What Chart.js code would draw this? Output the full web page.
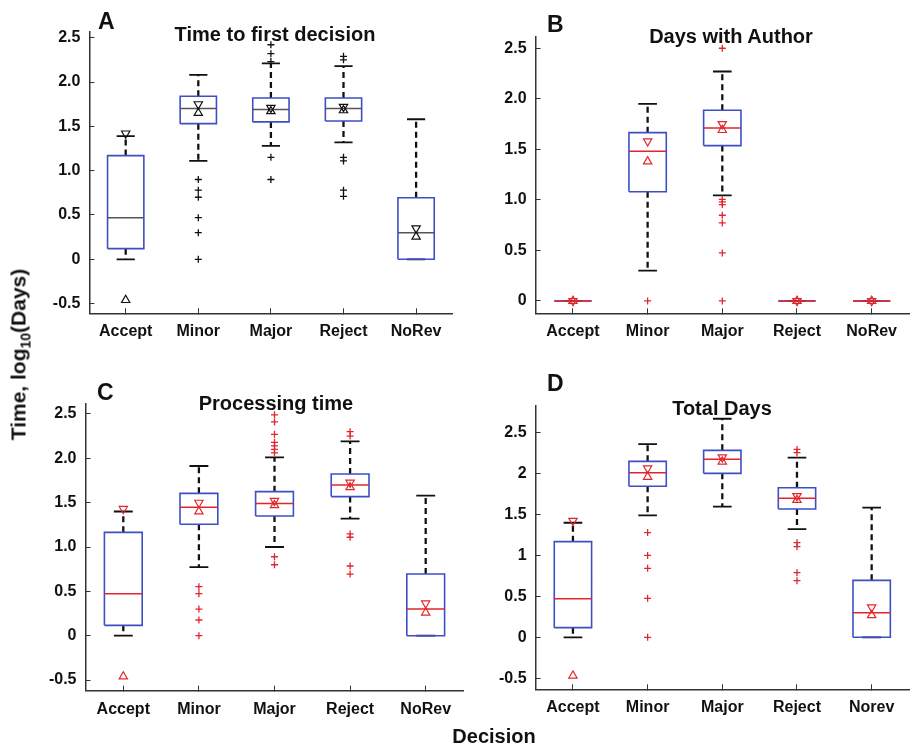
<!DOCTYPE html>
<html>
<head>
<meta charset="utf-8">
<script src="https://cdn.jsdelivr.net/npm/chart.js@4.4.0/dist/chart.umd.min.js"></script>
<style>
html, body { margin: 0; padding: 0; width: 911px; height: 746px; overflow: hidden; background: #fff; }
body { position: relative; font-family: "Liberation Sans", Arial, sans-serif; font-weight: bold; color: #111; }
canvas { position: absolute; }
.lbl { position: absolute; white-space: nowrap; line-height: 1; }
.letter { font-size: 23px; }
.title { font-size: 20px; width: 400px; text-align: center; }
.ytitle { font-size: 21px; width: 400px; text-align: center; transform: rotate(-90deg); }
sub { font-size: 14px; line-height: 0; }
</style>
</head>
<body>
<canvas id="panelA"></canvas>
<canvas id="panelB"></canvas>
<canvas id="panelC"></canvas>
<canvas id="panelD"></canvas>

<div class="lbl letter" style="left:98px;top:10px">A</div>
<div class="lbl letter" style="left:547px;top:13px">B</div>
<div class="lbl letter" style="left:97px;top:381px">C</div>
<div class="lbl letter" style="left:547px;top:372px">D</div>

<div class="lbl title" style="left:75px;top:24px">Time to first decision</div>
<div class="lbl title" style="left:531px;top:26px">Days with Author</div>
<div class="lbl title" style="left:76px;top:393px">Processing time</div>
<div class="lbl title" style="left:522px;top:398px">Total Days</div>

<div class="lbl title" style="left:294px;top:726px">Decision</div>
<div class="lbl ytitle" style="left:-182px;top:344px">Time, log<sub>10</sub>(Days)</div>

<script>
const categories = ['Accept', 'Minor', 'Major', 'Reject', 'NoRev'];
const categoriesD = ['Accept', 'Minor', 'Major', 'Reject', 'Norev'];

const yTicksFull = [-0.5, 0, 0.5, 1, 1.5, 2, 2.5];
const yLabelsFull = ['-0.5', '0', '0.5', '1.0', '1.5', '2.0', '2.5'];
const yTicksB = [0, 0.5, 1, 1.5, 2, 2.5];
const yLabelsB = ['0', '0.5', '1.0', '1.5', '2.0', '2.5'];
const yLabelsD = ['-0.5', '0', '0.5', '1', '1.5', '2', '2.5'];

// A: time to first decision
const firstLower = [0, 1.11, 1.28, 1.32, 0];
const firstQ1 = [0.12, 1.53, 1.55, 1.56, 0];
const firstMedian = [0.47, 1.70, 1.69, 1.70, 0.30];
const firstQ3 = [1.17, 1.84, 1.82, 1.82, 0.695];
const firstUpper = [1.39, 2.08, 2.21, 2.18, 1.58];
const firstNotchLo = [-0.46, 1.65, 1.67, 1.68, 0.255];
const firstNotchHi = [1.42, 1.75, 1.71, 1.72, 0.35];
const firstOutliers = [[], [0.90, 0.78, 0.70, 0.47, 0.30, 0], [2.42, 2.32, 2.23, 1.15, 0.90], [2.29, 2.25, 1.15, 1.11, 0.78, 0.71], []];

// B: days with author
const authorLower = [0, 0.30, 1.045, 0, 0];
const authorQ1 = [0, 1.08, 1.537, 0, 0];
const authorMedian = [0, 1.48, 1.71, 0, 0];
const authorQ3 = [0, 1.665, 1.886, 0, 0];
const authorUpper = [0, 1.95, 2.27, 0, 0];
const authorNotchLo = [0, 1.38, 1.69, 0, 0];
const authorNotchHi = [0, 1.58, 1.75, 0, 0];
const authorOutliers = [[], [0], [2.50, 1.005, 0.98, 0.953, 0.848, 0.772, 0.475, 0], [], []];

// C: processing time
const procLower = [0, 0.774, 1.0, 1.32, 0];
const procQ1 = [0.117, 1.256, 1.35, 1.568, 0];
const procMedian = [0.474, 1.447, 1.489, 1.70, 0.30];
const procQ3 = [1.165, 1.605, 1.624, 1.823, 0.695];
const procUpper = [1.40, 1.913, 2.01, 2.19, 1.58];
const procNotchLo = [-0.46, 1.40, 1.47, 1.673, 0.26];
const procNotchHi = [1.43, 1.50, 1.52, 1.726, 0.365];
const procOutliers = [[], [0.553, 0.474, 0.30, 0.177, 0], [2.49, 2.41, 2.27, 2.18, 2.14, 2.10, 2.06, 0.89, 0.80], [2.30, 2.25, 1.147, 1.11, 0.786, 0.695], []];

// D: total days
const totalLower = [0, 1.49, 1.596, 1.323, 0];
const totalQ1 = [0.118, 1.845, 2.003, 1.568, 0];
const totalMedian = [0.472, 2.01, 2.174, 1.70, 0.30];
const totalQ3 = [1.169, 2.15, 2.284, 1.828, 0.696];
const totalUpper = [1.40, 2.36, 2.67, 2.195, 1.584];
const totalNotchLo = [-0.468, 1.96, 2.146, 1.677, 0.27];
const totalNotchHi = [1.425, 2.064, 2.2, 1.726, 0.366];
const totalOutliers = [[], [1.28, 1.0, 0.843, 0.476, 0], [], [2.296, 2.256, 1.156, 1.107, 0.79, 0.692], []];

const BLUE = '#3d4fc2';
const RED = '#e3262b';
const INK = '#111';
const AXIS = '#333';

Chart.defaults.font.family = '"Liberation Sans", Arial, sans-serif';

// turn a list of segments into one broken line
function segs(list) {
  const out = [];
  list.forEach(s => {
    s.forEach(p => out.push({ x: p[0], y: p[1] }));
    out.push({ x: s[s.length - 1][0], y: null });
  });
  return out;
}

function boxDatasets(s, mark, med) {
  const whisk = [], caps = [], boxes = [], meds = [], hi = [], lo = [], outs = [];
  s.median.forEach((m, i) => {
    const x = i + 1;
    if (s.upper[i] > s.q3[i]) whisk.push([[x, s.q3[i]], [x, s.upper[i]]]);
    if (s.lower[i] < s.q1[i]) whisk.push([[x, s.q1[i]], [x, s.lower[i]]]);
    caps.push([[x - 0.125, s.upper[i]], [x + 0.125, s.upper[i]]]);
    caps.push([[x - 0.125, s.lower[i]], [x + 0.125, s.lower[i]]]);
    boxes.push([[x - 0.25, s.q1[i]], [x + 0.25, s.q1[i]], [x + 0.25, s.q3[i]], [x - 0.25, s.q3[i]], [x - 0.25, s.q1[i]]]);
    meds.push([[x - 0.25, m], [x + 0.25, m]]);
    hi.push({ x: x, y: s.notchHi[i] });
    lo.push({ x: x, y: s.notchLo[i] });
    s.outliers[i].forEach(v => outs.push({ x: x, y: v }));
  });
  const pts = { showLine: false, pointBackgroundColor: 'rgba(0,0,0,0)', pointBorderColor: mark };
  return [
    Object.assign({ data: outs, pointStyle: 'cross', pointRadius: 3.5, pointBorderWidth: 1.3 }, pts),
    Object.assign({ data: hi, pointStyle: 'triangle', pointRotation: 180, pointRadius: 4.8, pointBorderWidth: 1.2 }, pts),
    Object.assign({ data: lo, pointStyle: 'triangle', pointRadius: 4.8, pointBorderWidth: 1.2 }, pts),
    { data: segs(meds), borderColor: med, borderWidth: 1.5, pointRadius: 0, spanGaps: false },
    { data: segs(boxes), borderColor: BLUE, borderWidth: 1.6, borderJoinStyle: 'miter', pointRadius: 0, spanGaps: false },
    { data: segs(caps), borderColor: INK, borderWidth: 1.8, pointRadius: 0, spanGaps: false },
    { data: segs(whisk), borderColor: INK, borderWidth: 2.3, borderDash: [6, 4], pointRadius: 0, spanGaps: false }
  ];
}

function drawPanel(id, box, area, yMin, yMax, yTicks, yLabels, cats, stats, mark, med) {
  const cv = document.getElementById(id);
  cv.width = box.w; cv.height = box.h;
  cv.style.left = box.x + 'px'; cv.style.top = box.y + 'px';
  const yW = 60, xH = 30;
  const tickFont = { size: 16, weight: 'bold' };
  new Chart(cv, {
    type: 'line',
    data: { datasets: boxDatasets(stats, mark, med) },
    options: {
      responsive: false,
      animation: false,
      events: [],
      layout: { padding: { left: area.l - box.x - yW, top: area.t - box.y, right: box.x + box.w - area.r, bottom: box.y + box.h - area.b - xH } },
      plugins: { legend: { display: false }, tooltip: { enabled: false } },
      scales: {
        x: {
          type: 'linear', min: 0.5, max: 5.5,
          afterFit: sc => { sc.height = xH; },
          afterBuildTicks: sc => { sc.ticks = cats.map((c, i) => ({ value: i + 1 })); },
          ticks: { callback: v => cats[v - 1], font: tickFont, color: INK, padding: 14, maxRotation: 0, autoSkip: false },
          grid: { drawOnChartArea: false, drawTicks: true, tickLength: -5, color: AXIS, lineWidth: 1 },
          border: { display: true, color: AXIS, width: 1.5 }
        },
        y: {
          min: yMin, max: yMax,
          afterFit: sc => { sc.width = yW; },
          afterBuildTicks: sc => { sc.ticks = yTicks.map(v => ({ value: v })); },
          ticks: { callback: (v, i) => yLabels[i], font: tickFont, color: INK, padding: 14, autoSkip: false },
          grid: { drawOnChartArea: false, drawTicks: true, tickLength: -5, color: AXIS, lineWidth: 1 },
          border: { display: true, color: AXIS, width: 1.5 }
        }
      }
    }
  });
}

drawPanel('panelA', { x: 0, y: 0, w: 475, h: 350 }, { l: 89.4, t: 32, r: 452.4, b: 313.3 },
  -0.609, 2.564, yTicksFull, yLabelsFull, categories,
  { lower: firstLower, q1: firstQ1, median: firstMedian, q3: firstQ3, upper: firstUpper, notchLo: firstNotchLo, notchHi: firstNotchHi, outliers: firstOutliers },
  INK, '#555');

drawPanel('panelB', { x: 475, y: 0, w: 440, h: 350 }, { l: 535.6, t: 36.7, r: 912.4, b: 313.3 },
  -0.122, 2.614, yTicksB, yLabelsB, categories,
  { lower: authorLower, q1: authorQ1, median: authorMedian, q3: authorQ3, upper: authorUpper, notchLo: authorNotchLo, notchHi: authorNotchHi, outliers: authorOutliers },
  RED, RED);

drawPanel('panelC', { x: 0, y: 350, w: 475, h: 396 }, { l: 85.5, t: 403.3, r: 463.5, b: 690.7 },
  -0.62, 2.62, yTicksFull, yLabelsFull, categories,
  { lower: procLower, q1: procQ1, median: procMedian, q3: procQ3, upper: procUpper, notchLo: procNotchLo, notchHi: procNotchHi, outliers: procOutliers },
  RED, RED);

drawPanel('panelD', { x: 475, y: 350, w: 440, h: 396 }, { l: 535.6, t: 406, r: 912.4, b: 689.3 },
  -0.635, 2.826, yTicksFull, yLabelsD, categoriesD,
  { lower: totalLower, q1: totalQ1, median: totalMedian, q3: totalQ3, upper: totalUpper, notchLo: totalNotchLo, notchHi: totalNotchHi, outliers: totalOutliers },
  RED, RED);
</script>
</body>
</html>
